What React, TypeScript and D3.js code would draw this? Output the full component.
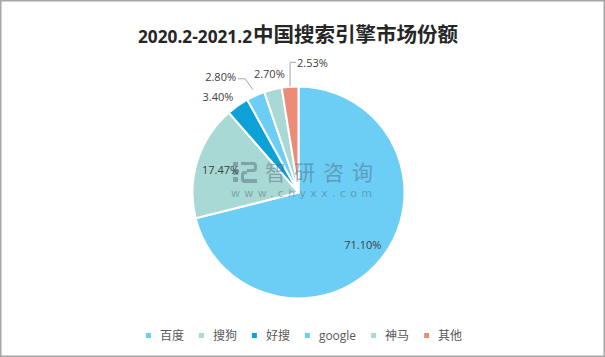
import React from "react";
import * as d3 from "d3";

const categories = ["百度", "搜狗", "好搜", "google", "神马", "其他"];
const shares = [71.1, 17.47, 3.4, 2.8, 2.7, 2.53];
const shareLabels = ["71.10%", "17.47%", "3.40%", "2.80%", "2.70%", "2.53%"];
const titleYears = "2020.2-2021.2";
const titleText = "中国搜索引擎市场份额";

const colors = ["#6CCEF5", "#A8D9D4", "#0DA2D7", "#6CCEF5", "#A8D9D4", "#EC8B78"];
const labelModes = ["in", "in", "out", "leaderLeft", "outMid", "leaderUp"];

const W = 605;
const H = 357;
const cx = 298.5;
const cy = 192.5;
const R = 106;

function measure(text: string, font: string, fallback: number) {
  try {
    const c = document.createElement("canvas");
    const ctx = c.getContext("2d");
    if (!ctx) return fallback;
    ctx.font = font;
    return ctx.measureText(text).width;
  } catch {
    return fallback;
  }
}

export default function App() {
  const pie = d3
    .pie<number>()
    .sort(null)
    .value((d) => d)
    .startAngle(0)
    .endAngle(Math.PI * 2);
  const arcs = pie(shares);
  const arc = d3.arc<d3.PieArcDatum<number>>().innerRadius(0).outerRadius(R);
  const at = (a: number, r: number): [number, number] => [cx + Math.sin(a) * r, cy - Math.cos(a) * r];

  const labelFont = "'Open Sans', 'Liberation Sans', sans-serif";
  const legendFont = "'Noto Sans CJK SC', 'Open Sans', sans-serif";
  const legendFs = 12;

  const widths = categories.map((c) =>
    measure(c, `${legendFs}px ${/^[a-z]+$/i.test(c) ? "'Open Sans'" : "'Noto Sans CJK SC'"}`, c.length * legendFs)
  );
  const sq = 5;
  const sqGap = 9;
  const itemGap = 15;
  const total = widths.reduce((s, w) => s + sq + sqGap + w, 0) + itemGap * (categories.length - 1);
  let cursor = 304 - total / 2;
  const legendItems = categories.map((c, i) => {
    const x = cursor;
    cursor += sq + sqGap + widths[i] + itemGap;
    return { c, x, color: colors[i] };
  });

  const labelEls = arcs.map((a, i) => {
    const mid = (a.startAngle + a.endAngle) / 2;
    const mode = labelModes[i];
    const style = { fontFamily: labelFont, fontSize: 11, fill: "#404040" } as const;
    if (mode === "in") {
      const [x, y] = at(mid, R * 0.77);
      return (
        <text key={i} x={x} y={y + 2} dy="0.35em" textAnchor="middle" style={style}>
          {shareLabels[i]}
        </text>
      );
    }
    if (mode === "out") {
      const [x, y] = at(mid, R * 1.12);
      return (
        <text key={i} x={x + 3} y={y + 2} dy="0.35em" textAnchor="end" style={style}>
          {shareLabels[i]}
        </text>
      );
    }
    if (mode === "outMid") {
      const [x, y] = at(mid, R * 1.14);
      return (
        <text key={i} x={x} y={y - 1} dy="0.35em" textAnchor="middle" style={style}>
          {shareLabels[i]}
        </text>
      );
    }
    if (mode === "leaderLeft") {
      const [x, y] = at(mid, R * 1.06);
      const ly = y - 13;
      return (
        <g key={i}>
          <polyline
            points={`${x},${y} ${x - 8},${ly + 2} ${x - 15},${ly + 2}`}
            fill="none"
            stroke="#A6A6A6"
            strokeWidth={1}
          />
          <text x={x - 17} y={ly} dy="0.35em" textAnchor="end" style={style}>
            {shareLabels[i]}
          </text>
        </g>
      );
    }
    const [x, y] = at(mid, R * 1.005);
    const ly = y - 20;
    return (
      <g key={i}>
        <polyline
          points={`${x},${y} ${x},${ly - 4} ${x + 6},${ly - 4}`}
          fill="none"
          stroke="#A6A6A6"
          strokeWidth={1}
        />
        <text x={x + 7} y={ly - 3} dy="0.35em" textAnchor="start" style={style}>
          {shareLabels[i]}
        </text>
      </g>
    );
  });

  const wm = "#4d6275";

  return (
    <svg
      width={W}
      height={H}
      viewBox={`0 0 ${W} ${H}`}
      style={{ position: "absolute", left: 0, top: 0, background: "#fff" }}
    >
      <rect x={0.75} y={0.75} width={W - 1.5} height={H - 1.5} fill="#fff" stroke="#A6A6A6" strokeWidth={1.5} />

      <text
        x={138}
        y={43}
        textLength={114}
        lengthAdjust="spacingAndGlyphs"
        style={{ fontFamily: "'Open Sans', 'Liberation Sans', sans-serif", fontWeight: 700, fontSize: 17, fill: "#262626" }}
      >
        {titleYears}
      </text>
      <text
        x={253}
        y={42}
        textLength={205}
        lengthAdjust="spacingAndGlyphs"
        style={{ fontFamily: "'Noto Sans CJK SC', sans-serif", fontWeight: 700, fontSize: 20, fill: "#262626" }}
      >
        {titleText}
      </text>

      <g transform={`translate(${cx},${cy})`}>
        {arcs.map((a, i) => (
          <path key={i} d={arc(a) || ""} fill={colors[i]} stroke="#fff" strokeWidth={2} strokeLinejoin="round" />
        ))}
      </g>

      <g opacity={0.45} fill={wm}>
        <rect x={233} y={162} width={5} height={5} />
        <rect x={233} y={170} width={5} height={5} />
        <rect x={233} y={177} width={5} height={5} />
        <path d="M241,162 h12 a4,4 0 0 1 4,4 v2 a4,4 0 0 1 -4,4 h-6 v-3 h6 a1,1 0 0 0 1,-1 v-2 a1,1 0 0 0 -1,-1 h-12 z" />
        <path d="M241,175 a4,4 0 0 1 4,-4 h2 v3 h-2 a1,1 0 0 0 -1,1 v3 a1,1 0 0 0 1,1 h12 v4 h-12 a4,4 0 0 1 -4,-4 z" />
        <text
          x={265}
          y={180}
          textLength={108}
          lengthAdjust="spacing"
          style={{ fontFamily: "'Noto Sans CJK SC', sans-serif", fontSize: 21 }}
        >
          智研咨询
        </text>
        <text
          x={231}
          y={197}
          textLength={141}
          lengthAdjust="spacing"
          style={{ fontFamily: "'DejaVu Sans', sans-serif", fontSize: 11 }}
        >
          www.chyxx.com
        </text>
      </g>

      {labelEls}

      {legendItems.map((it, i) => (
        <g key={i}>
          <rect x={it.x} y={333} width={sq} height={sq} fill={it.color} />
          <text
            x={it.x + sq + sqGap}
            y={340}
            style={{
              fontFamily: /^[a-z]+$/i.test(it.c) ? "'Open Sans', sans-serif" : legendFont,
              fontSize: legendFs,
              fill: "#595959",
            }}
          >
            {it.c}
          </text>
        </g>
      ))}
    </svg>
  );
}
